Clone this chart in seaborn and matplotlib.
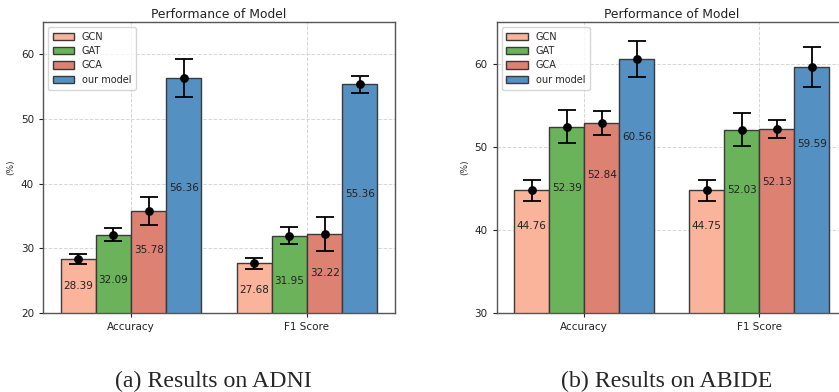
import matplotlib
matplotlib.use("Agg")
import matplotlib.pyplot as plt
import seaborn as sns
import pandas as pd

# ---------------- data ----------------
models = ["GCN", "GAT", "GCA", "our model"]
metrics = ["Accuracy", "F1 Score"]

adni_acc = [28.39, 32.09, 35.78, 56.36]
adni_f1 = [27.68, 31.95, 32.22, 55.36]
adni_acc_err = [0.77, 0.98, 2.2, 2.9]
adni_f1_err = [0.85, 1.3, 2.6, 1.3]

abide_acc = [44.76, 52.39, 52.84, 60.56]
abide_f1 = [44.75, 52.03, 52.13, 59.59]
abide_acc_err = [1.25, 2.0, 1.4, 2.2]
abide_f1_err = [1.25, 2.0, 1.05, 2.4]

# heights at which the value labels sit inside the bars
adni_acc_lab = [24.15, 25.1, 29.7, 39.3]
adni_f1_lab = [23.6, 25.0, 26.2, 38.4]
abide_acc_lab = [40.5, 45.0, 46.6, 51.2]
abide_f1_lab = [40.5, 44.8, 45.8, 50.3]

colors = ["#F9B49B", "#6AB35A", "#DD8173", "#5590C3"]

sns.set_style("white")
plt.rcParams["font.family"] = ["DejaVu Sans"]

fig = plt.figure(figsize=(8.39, 3.92), dpi=100)
ax1 = fig.add_axes([43 / 839, 79 / 392, 352 / 839, 291 / 392])
ax2 = fig.add_axes([496.7 / 839, 79 / 392, 350 / 839, 291 / 392])


def panel(ax, acc, f1, acc_err, f1_err, acc_lab, f1_lab, ylim, yticks):
    rows = []
    for i, m in enumerate(models):
        rows.append({"metric": metrics[0], "model": m, "value": acc[i],
                     "err": acc_err[i], "lab": acc_lab[i]})
        rows.append({"metric": metrics[1], "model": m, "value": f1[i],
                     "err": f1_err[i], "lab": f1_lab[i]})
    df = pd.DataFrame(rows)
    sns.barplot(data=df, x="metric", y="value", hue="model", order=metrics,
                hue_order=models, palette=colors, errorbar=None,
                saturation=1, edgecolor="#3a3a3a", linewidth=1.0, ax=ax,
                zorder=2)
    for cont, m in zip(list(ax.containers), models):
        sub = df[df.model == m].set_index("metric").loc[metrics]
        for bar, (_, r) in zip(cont.patches, sub.iterrows()):
            cx = bar.get_x() + bar.get_width() / 2
            ax.errorbar(cx, r["value"], yerr=r["err"], fmt="o", color="black",
                        markersize=5.3, elinewidth=1.3, capsize=6.5,
                        capthick=1.3, zorder=4)
            ax.text(cx, r["lab"], f"{r['value']:.2f}", ha="center",
                    va="center", fontsize=7.5, color="#222222", zorder=5)
    ax.set_ylim(*ylim)
    ax.set_yticks(yticks)
    ax.set_xlim(-0.5, 1.5)
    ax.set_xlabel("")
    ax.set_ylabel("(%)", fontsize=6.5, color="#333333")
    ax.set_title("Performance of Model", fontsize=8.9, color="#222222", pad=3)
    ax.tick_params(axis="both", labelsize=7.5, colors="#222222", length=3,
                   direction="out", left=True, bottom=True)
    ax.grid(True, linestyle="--", color="#cccccc", linewidth=0.7, alpha=0.8)
    ax.set_axisbelow(True)
    for s in ax.spines.values():
        s.set_color("#555555")
        s.set_linewidth(1.0)
    leg = ax.legend(loc="upper left", fontsize=7, frameon=True,
                    handlelength=2.2, handleheight=0.8, borderpad=0.5,
                    labelspacing=0.45)
    leg.get_frame().set_edgecolor("#cccccc")
    leg.set_title(None)


panel(ax1, adni_acc, adni_f1, adni_acc_err, adni_f1_err, adni_acc_lab,
      adni_f1_lab, (20, 65), [20, 30, 40, 50, 60])
panel(ax2, abide_acc, abide_f1, abide_acc_err, abide_f1_err, abide_acc_lab,
      abide_f1_lab, (30, 65), [30, 40, 50, 60])

fig.text(213.5 / 839, 10.5 / 392, "(a) Results on ADNI", ha="center",
         va="center", fontsize=17.2, family=["Liberation Serif"])
fig.text(666.7 / 839, 10.5 / 392, "(b) Results on ABIDE", ha="center",
         va="center", fontsize=17.2, family=["Liberation Serif"])

fig.savefig("out.png", dpi=100)
